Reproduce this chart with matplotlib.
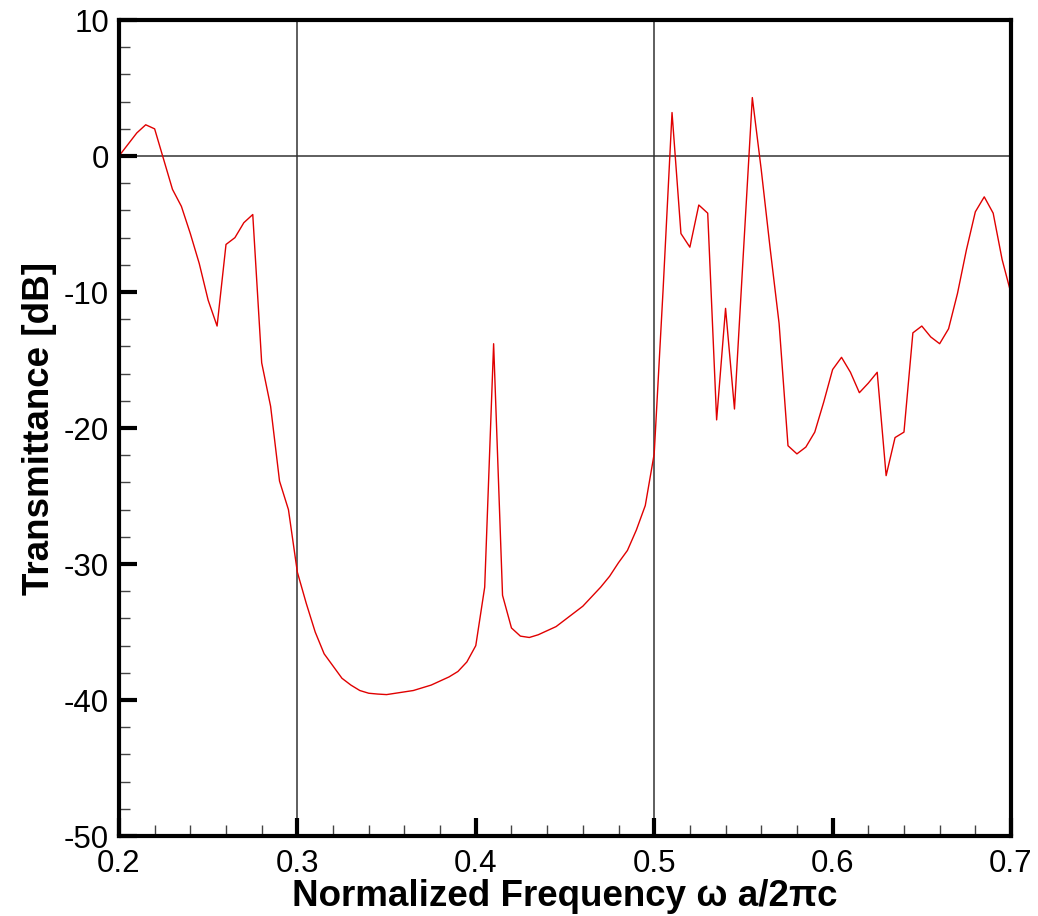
import numpy as np
import matplotlib
matplotlib.use("Agg")
import matplotlib.pyplot as plt
from matplotlib.ticker import MultipleLocator

plt.rcParams['font.family'] = ['Liberation Sans', 'DejaVu Sans']

# Данные (шаг 0.005)
freq = [0.200, 0.210, 0.215, 0.220, 0.230, 0.235, 0.240, 0.245, 0.250, 0.255,
        0.260, 0.265, 0.270, 0.275, 0.280, 0.285, 0.290, 0.295, 0.300, 0.305,
        0.310, 0.315, 0.320, 0.325, 0.330, 0.335, 0.340, 0.345, 0.350, 0.355,
        0.360, 0.365, 0.370, 0.375, 0.380, 0.385, 0.390, 0.395, 0.400, 0.405,
        0.410, 0.415, 0.420, 0.425, 0.430, 0.435, 0.440, 0.445, 0.450, 0.455,
        0.460, 0.465, 0.470, 0.475, 0.480, 0.485, 0.490, 0.495, 0.500, 0.505,
        0.510, 0.515, 0.520, 0.525, 0.530, 0.535, 0.540, 0.545, 0.550, 0.555,
        0.560, 0.565, 0.570, 0.575, 0.580, 0.585, 0.590, 0.595, 0.600, 0.605,
        0.610, 0.615, 0.620, 0.625, 0.630, 0.635, 0.640, 0.645, 0.650, 0.655,
        0.660, 0.665, 0.670, 0.675, 0.680, 0.685, 0.690, 0.695, 0.700]
trans = [0.0, 1.7, 2.3, 2.0, -2.45, -3.7, -5.7, -7.9, -10.6, -12.5,
         -6.5, -6.0, -4.9, -4.3, -15.2, -18.4, -23.9, -26.0, -30.6, -32.9,
         -35.0, -36.6, -37.5, -38.4, -38.9, -39.3, -39.5, -39.56, -39.6, -39.5,
         -39.4, -39.3, -39.1, -38.9, -38.6, -38.3, -37.9, -37.2, -36.0, -31.7,
         -13.8, -32.3, -34.7, -35.3, -35.4, -35.2, -34.9, -34.6, -34.1, -33.6,
         -33.1, -32.4, -31.7, -30.9, -29.9, -29.0, -27.5, -25.7, -21.9, -9.8,
         3.2, -5.7, -6.7, -3.6, -4.2, -19.4, -11.2, -18.6, -7.1, 4.3,
         -1.0, -6.8, -12.3, -21.3, -21.9, -21.4, -20.3, -18.1, -15.7, -14.8,
         -15.9, -17.4, -16.7, -15.9, -23.5, -20.7, -20.3, -13.0, -12.5, -13.3,
         -13.8, -12.7, -10.1, -6.9, -4.1, -3.0, -4.2, -7.6, -10.1]

fig = plt.figure(figsize=(10.38, 9.16), dpi=100)
ax = fig.add_axes([0.1146, 0.0873, 0.8594, 0.8908])

# Линии сетки только на 0.3, 0.5 и 0 дБ
ax.axvline(0.3, color='#333333', lw=1.1, zorder=1)
ax.axvline(0.5, color='#333333', lw=1.1, zorder=1)
ax.axhline(0.0, color='#333333', lw=1.1, zorder=1)
ax.plot(freq, trans, color='#e00000', lw=1.0, zorder=2)

ax.set_xlim(0.2, 0.7)
ax.set_ylim(-50, 10)
ax.xaxis.set_major_locator(MultipleLocator(0.1))
ax.xaxis.set_minor_locator(MultipleLocator(0.02))
ax.yaxis.set_major_locator(MultipleLocator(10))
ax.yaxis.set_minor_locator(MultipleLocator(2))
ax.xaxis.set_major_formatter(plt.FuncFormatter(lambda v, p: '%.1f' % v))
ax.yaxis.set_major_formatter(plt.FuncFormatter(lambda v, p: '%d' % round(v)))

for s in ax.spines.values():
    s.set_linewidth(3.0)
ax.tick_params(which='major', direction='in', length=13, width=3, labelsize=22.5,
               top=False, right=False)
ax.tick_params(axis='y', which='major', pad=7)
ax.tick_params(axis='x', which='major', pad=9)
ax.tick_params(which='minor', direction='in', length=8, width=1, color='#444444',
               top=False, right=False)

ax.set_xlabel('Normalized Frequency ω a/2πc', fontsize=26.5, fontweight='bold', labelpad=0)
ax.set_ylabel('Transmittance [dB]', fontsize=26.5, fontweight='bold', labelpad=5)

fig.savefig('out.png', dpi=100)
